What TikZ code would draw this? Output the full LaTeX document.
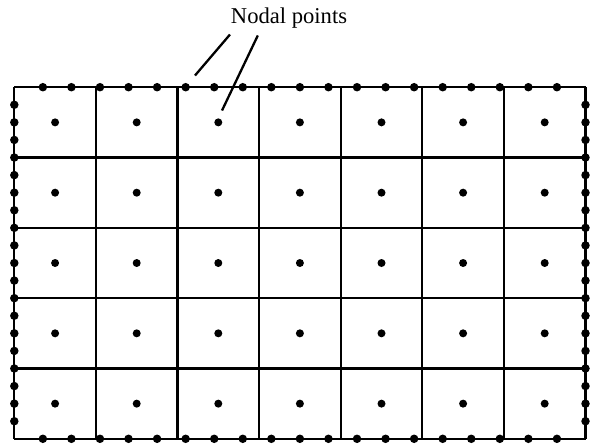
\documentclass[tikz,border=0pt]{standalone}
\usepackage{fontspec}
\setmainfont{Liberation Serif}
\begin{document}
\begin{tikzpicture}[x=1pt,y=-1pt,
  gridline/.style={line width=2.3pt},
  bdot/.style={circle,fill=black,inner sep=0pt,minimum size=8.5pt},
  cdot/.style={circle,fill=black,inner sep=0pt,minimum size=8pt},
  leader/.style={line width=2.3pt},
  lbl/.style={font=\fontsize{22.6}{26}\selectfont,inner sep=0pt,anchor=base}]
\useasboundingbox (0,0) rectangle (592,445);
\pgfmathsetmacro{\L}{14.3}
\pgfmathsetmacro{\R}{585.5}
\pgfmathsetmacro{\T}{87.2}
\pgfmathsetmacro{\B}{438.8}
\pgfmathsetmacro{\cw}{(\R-\L)/7}
\pgfmathsetmacro{\ch}{(\B-\T)/5}
\pgfmathsetmacro{\dx}{(\R-\L)/20}
\pgfmathsetmacro{\dy}{(\B-\T)/20}
% grid
\foreach \i in {0,...,7}{
  \draw[gridline] ({\L+\i*\cw},\T) -- ({\L+\i*\cw},\B);
}
\foreach \j in {0,...,5}{
  \draw[gridline] (\L,{\T+\j*\ch}) -- (\R,{\T+\j*\ch});
}
% boundary nodal points
\foreach \k in {1,...,19}{
  \node[bdot] (t\k) at ({\L+\k*\dx},\T) {};
  \node[bdot] (b\k) at ({\L+\k*\dx},\B) {};
  \node[bdot] (l\k) at (\L,{\T+\k*\dy}) {};
  \node[bdot] (r\k) at (\R,{\T+\k*\dy}) {};
}
% cell-centre nodal points
\foreach \i in {0,...,6}{
  \foreach \j in {0,...,4}{
    \node[cdot] (c\i\j) at ({\L+(\i+0.5)*\cw},{\T+(\j+0.5)*\ch}) {};
  }
}
% label and leaders
\node[lbl] (label) at (289,23.3) {Nodal points};
\coordinate (s1) at (230,34.5);
\coordinate (e1) at (195,75.5);
\coordinate (s2) at (257.8,35.5);
\coordinate (e2) at (222,110.5);
\draw[leader] (s1) -- (e1);
\draw[leader] (s2) -- (e2);
\end{tikzpicture}
\end{document}
